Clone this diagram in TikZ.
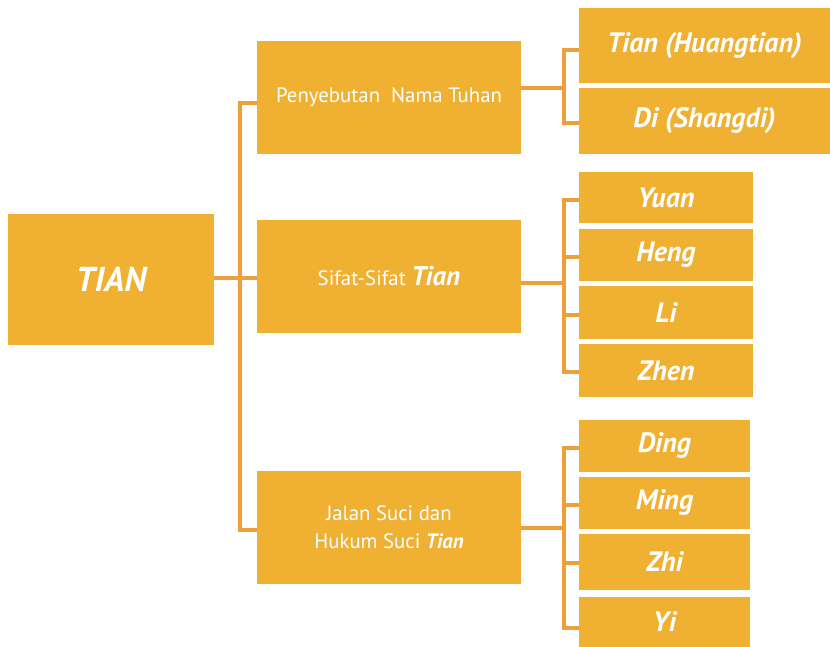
\documentclass[tikz,border=0pt]{standalone}
\usepackage{fontspec}
\setmainfont{PT Sans}
\definecolor{boxfill}{HTML}{F0B133}
\definecolor{linecol}{HTML}{EC9F3A}
\begin{document}
\begin{tikzpicture}[x=1pt,y=-1pt,
  box/.style={fill=boxfill, draw=none, inner sep=0pt, text=white, align=center},
  lbl/.style={font=\fontsize{28}{30}\selectfont\bfseries\itshape},
  reg/.style={font=\fontsize{20.8}{28}\selectfont},
  conn/.style={draw=linecol, line width=4.6pt, line join=miter}]
\path[use as bounding box] (0,0) rectangle (830,647);
% main
\node[box, minimum width=206pt, minimum height=131pt, font=\fontsize{34.5}{38}\selectfont\bfseries\itshape] (tian) at (111,279.5) {TIAN};
\node[box, reg, minimum width=264pt, minimum height=113pt] (m1) at (389,97.5) {Penyebutan\ \ Nama Tuhan};
\node[box, reg, minimum width=264pt, minimum height=113pt] (m2) at (389,276.5) {Sifat-Sifat {\fontsize{27}{28}\selectfont\bfseries\itshape Tian}};
\node[box, reg, minimum width=264pt, minimum height=113pt] (m3) at (389,527.5) {Jalan Suci dan\\Hukum Suci {\bfseries\itshape Tian}};
% group 1
\node[box, lbl, minimum width=251pt, minimum height=75pt] (r11) at (704.5,45.5) {Tian (Huangtian)};
\node[box, lbl, minimum width=251pt, minimum height=66pt] (r12) at (704.5,121) {Di (Shangdi)};
% group 2
\node[box, lbl, minimum width=174pt, minimum height=51pt] (r21) at (666,197.5) {Yuan};
\node[box, lbl, minimum width=174pt, minimum height=52pt] (r22) at (666,255) {Heng};
\node[box, lbl, minimum width=174pt, minimum height=53pt] (r23) at (666,312.5) {Li};
\node[box, lbl, minimum width=174pt, minimum height=53pt] (r24) at (666,370.5) {Zhen};
% group 3
\node[box, lbl, minimum width=171pt, minimum height=52pt] (r31) at (664.5,446) {Ding};
\node[box, lbl, minimum width=171pt, minimum height=52pt] (r32) at (664.5,503) {Ming};
\node[box, lbl, minimum width=171pt, minimum height=56pt] (r33) at (664.5,562) {Zhi};
\node[box, lbl, minimum width=171pt, minimum height=50pt] (r34) at (664.5,622) {Yi};
% junction points
\coordinate (j1) at (240,103);
\coordinate (j3) at (240,530);
\coordinate (k0) at (564,88);
\coordinate (k1) at (564,50);
\coordinate (k2) at (564,123);
\coordinate (p0) at (564,283);
\coordinate (p1) at (564,200);
\coordinate (p2) at (564,257);
\coordinate (p3) at (564,315);
\coordinate (p4) at (564,372);
\coordinate (q0) at (564,528);
\coordinate (q1) at (564,448);
\coordinate (q2) at (564,505);
\coordinate (q3) at (564,563);
\coordinate (q4) at (564,628);
% connectors
\draw[conn] (tian.east |- 0,278) -- (m2.west |- 0,278);
\draw[conn] (m1.west |- j1) -- (j1) -- (j3) -- (m3.west |- j3);
\draw[conn] (k0 -| m1.east) -- (k0);
\draw[conn] (r11.west |- k1) -- (k1) -- (k2) -- (r12.west |- k2);
\draw[conn] (p0 -| m2.east) -- (p0);
\draw[conn] (r21.west |- p1) -- (p1) -- (p4) -- (r24.west |- p4);
\draw[conn] (p2) -- (r22.west |- p2);
\draw[conn] (p3) -- (r23.west |- p3);
\draw[conn] (q0 -| m3.east) -- (q0);
\draw[conn] (r31.west |- q1) -- (q1) -- (q4) -- (r34.west |- q4);
\draw[conn] (q2) -- (r32.west |- q2);
\draw[conn] (q3) -- (r33.west |- q3);
\end{tikzpicture}
\end{document}
